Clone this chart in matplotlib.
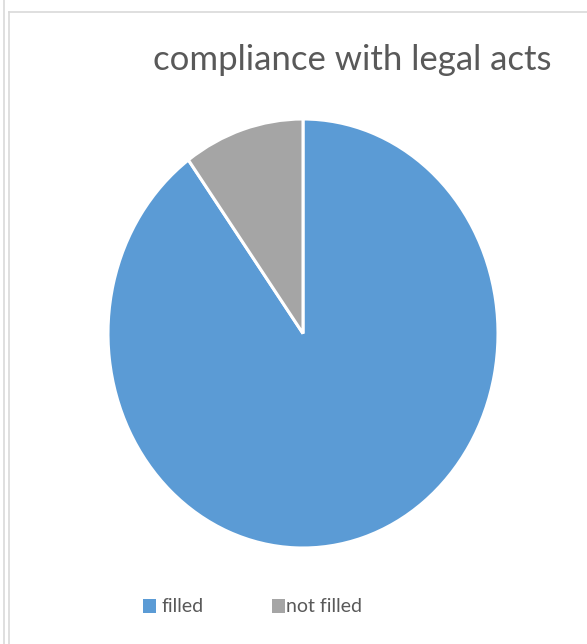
import matplotlib
matplotlib.use("Agg")
import matplotlib.pyplot as plt
from matplotlib.patches import Rectangle
from matplotlib.lines import Line2D

categories = ["filled", "not filled"]
shares = [90, 10]
colors = ["#5B9BD5", "#A5A5A5"]
title = "compliance with legal acts"

W, H = 587, 644
plt.rcParams["font.family"] = ["Lato", "DejaVu Sans"]
fig = plt.figure(figsize=(W / 100, H / 100), dpi=100)

def fx(px):
    return px / W

def fy(py):
    return 1 - py / H

# chart frame lines
frame_col = "#D9D9D9"
fig.add_artist(Line2D([fx(3.5), fx(3.5)], [0, 1], color=frame_col, lw=1.2))
fig.add_artist(Line2D([fx(9), fx(9)], [0, fy(12)], color=frame_col, lw=1.2))
fig.add_artist(Line2D([fx(9), 1], [fy(12), fy(12)], color=frame_col, lw=1.2))

# pie area
left, top, right, bottom = 108, 119, 498, 548
ax = fig.add_axes([fx(left), fy(bottom), fx(right - left), (bottom - top) / H])
ax.pie(shares, colors=colors, startangle=90, counterclock=False,
       wedgeprops=dict(edgecolor="white", linewidth=2.2))
ax.set_aspect("auto")
ax.set_xlim(-1, 1)
ax.set_ylim(-1, 1)
ax.axis("off")

fig.text(fx(352), fy(60), title, ha="center", va="center",
         fontsize=25, color="#595959")

# legend
txt_col = "#595959"
leg_y = 606
for (x_sq, x_txt), lab, col in zip([(143, 161), (272, 286)], categories, colors):
    fig.add_artist(Rectangle((fx(x_sq), fy(613)), fx(13), 14 / H,
                             facecolor=col, edgecolor="none"))
    fig.text(fx(x_txt), fy(leg_y), lab, ha="left", va="center",
             fontsize=14, color=txt_col)

fig.savefig("out.png", dpi=100, facecolor="white")
